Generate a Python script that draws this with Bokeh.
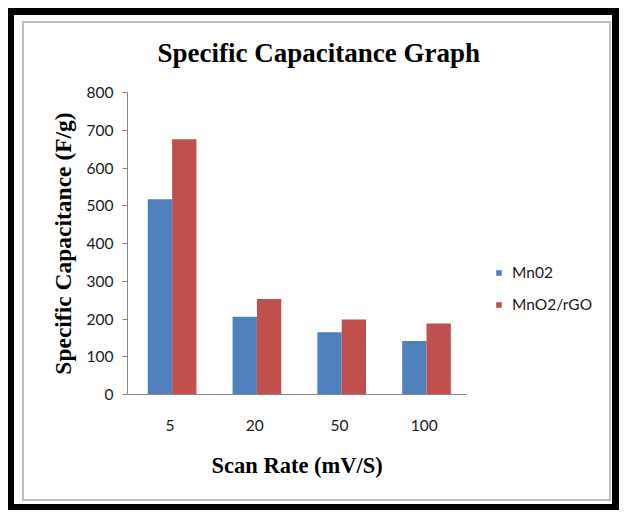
from bokeh.plotting import figure
from bokeh.models import (ColumnDataSource, Range1d, FixedTicker,
                          Legend, LegendItem, Title)
from bokeh.transform import dodge
from bokeh.embed import file_html
from bokeh.resources import INLINE

# ---- data ----
categories = ["5", "20", "50", "100"]
mno2 = [517, 206, 165, 142]
mno2_rgo = [676, 253, 199, 188]
y_ticks = [0, 100, 200, 300, 400, 500, 600, 700, 800]
series_names = ["Mn02", "MnO2/rGO"]

# category slots on a numeric axis (slot centres)
x_pos = [i + 0.5 for i in range(len(categories))]

W, H = 619, 510
FL, FT, FH = 127, 92, 302          # frame left / top / height (px)
FR = 600                           # frame right edge (px) - room for legend
CAT_PX = 84.8                      # pixels per category slot
FW = FR - FL
BLUE, RED = "#4F81BD", "#C0504D"
AXIS_GRAY = "#868686"
SANS = "Lato"
SERIF = "Liberation Serif"
TXT = "#1a1a1a"

src = ColumnDataSource(dict(x=x_pos, a=mno2, b=mno2_rgo))

p = figure(width=W, height=H, x_range=Range1d(0, FW / CAT_PX),
           y_range=Range1d(0, 800), output_backend="svg", toolbar_location=None,
           min_border_left=FL, min_border_right=W - FR,
           min_border_top=FT, min_border_bottom=H - FT - FH)
p.background_fill_alpha = 0
p.border_fill_alpha = 0
p.outline_line_color = None
p.grid.grid_line_color = None
p.styles = {
    "background-color": "white",
    "box-shadow": ("inset 4px 4px 0 4px white, "
                   "inset 3.5px 4.5px 0 10.5px black, "
                   "inset 7px 6px 0 15px white, "
                   "inset 7px 6px 0 17px #bfbfbf"),
}

r1 = p.vbar(x=dodge("x", -0.1175), top="a", width=0.287,
            source=src, fill_color=BLUE, line_color=None)
r2 = p.vbar(x=dodge("x", 0.1695), top="b", width=0.287,
            source=src, fill_color=RED, line_color=None)

# y axis
ya = p.yaxis[0]
ya.ticker = FixedTicker(ticks=y_ticks)
ya.minor_tick_line_color = None
ya.major_tick_in = 0
ya.major_tick_out = 5
ya.major_tick_line_color = AXIS_GRAY
ya.axis_line_color = AXIS_GRAY
ya.major_label_text_font = SANS
ya.major_label_text_font_size = "15.5px"
ya.major_label_text_color = TXT
ya.major_label_standoff = 9
ya.axis_label = "Specific Capacitance (F/g)"
ya.axis_label_text_font = SERIF
ya.axis_label_text_font_style = "bold"
ya.axis_label_text_font_size = "23.5px"
ya.axis_label_text_color = "black"
ya.axis_label_standoff = 8

# x axis (category labels on slot centres)
xa = p.xaxis[0]
xa.ticker = FixedTicker(ticks=x_pos)
xa.major_label_overrides = {x: c for x, c in zip(x_pos, categories)}
xa.bounds = (0, len(categories))
xa.major_tick_in = 0
xa.major_tick_out = 0
xa.minor_tick_line_color = None
xa.axis_line_color = AXIS_GRAY
xa.major_label_text_font = SANS
xa.major_label_text_font_size = "15.5px"
xa.major_label_text_color = TXT
xa.major_label_standoff = 25

# x axis title (placed under the category axis)
p.add_layout(Title(text="Scan Rate (mV/S)", align="left", offset=84,
                   text_font=SERIF, text_font_style="bold",
                   text_font_size="22.5px", text_color="black", standoff=35),
             "below")

# chart title
p.title = Title(text="Specific Capacitance Graph", align="left", offset=30,
                text_font=SERIF, text_font_style="bold", text_font_size="27px",
                text_color="black", standoff=49)

# legend
legend = Legend(items=[LegendItem(label=series_names[0], renderers=[r1]),
                       LegendItem(label=series_names[1], renderers=[r2])],
                location=(368, 80), orientation="vertical",
                glyph_width=7, glyph_height=7, label_standoff=10,
                label_height=20, spacing=12, padding=0, margin=0,
                border_line_color=None, background_fill_alpha=0,
                label_text_font=SANS, label_text_font_size="15.5px",
                label_text_color=TXT)
p.add_layout(legend)

open("out.html", "w").write(file_html(p, INLINE))
